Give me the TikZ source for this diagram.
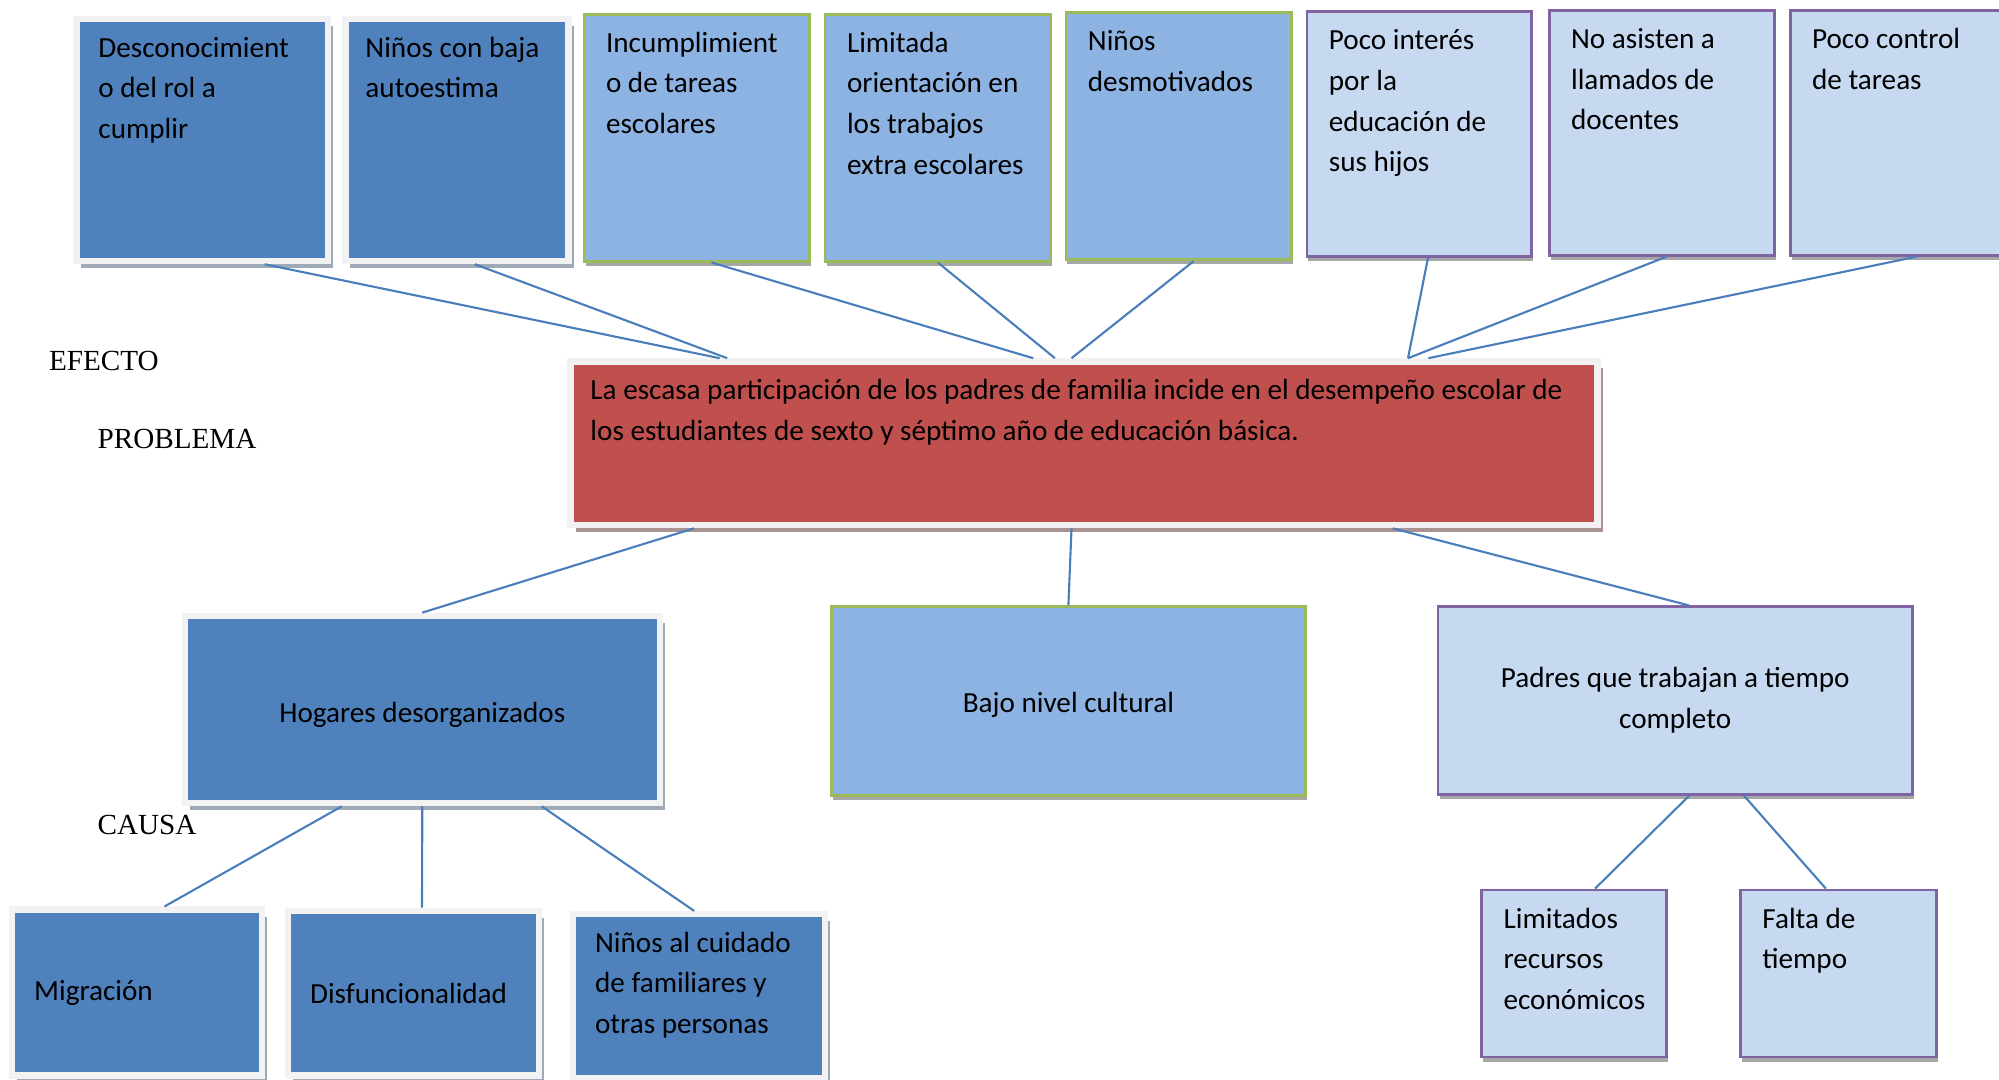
\documentclass[tikz,border=0pt]{standalone}
\usepackage{fontspec}
\setmainfont{Carlito}
\newfontfamily\timesfont{Liberation Serif}
\usetikzlibrary{shadows}
\hyphenpenalty=10000

\definecolor{darkblue}{HTML}{4F81BD}
\definecolor{midblue}{HTML}{8DB3E2}
\definecolor{paleblue}{HTML}{C6D9F1}
\definecolor{leafgreen}{HTML}{9BBB59}
\definecolor{lilac}{HTML}{8064A2}
\definecolor{brick}{HTML}{C0504D}
\definecolor{framegray}{HTML}{F2F2F2}
\definecolor{shadowblue}{HTML}{9FAAB9}
\definecolor{shadowrose}{HTML}{A99393}
\definecolor{shadowgray}{HTML}{A6A6A6}
\definecolor{linkblue}{HTML}{4A7EBB}

\tikzset{
  every node/.style={font=\fontsize{8.3}{11.6}\selectfont, inner xsep=0.22cm, inner ysep=0.1cm},
  darkbox/.style={draw=framegray, line width=1.8pt, fill=darkblue,
    drop shadow={shadow xshift=0.05cm, shadow yshift=-0.07cm, fill=shadowblue, opacity=1}},
  redbox/.style={draw=framegray, line width=1.8pt, fill=brick,
    drop shadow={shadow xshift=0.06cm, shadow yshift=-0.07cm, fill=shadowrose, opacity=1}},
  midbox/.style={draw=leafgreen, line width=0.8pt, fill=midblue,
    drop shadow={shadow xshift=0.015cm, shadow yshift=-0.045cm, fill=shadowgray, opacity=1}},
  palebox/.style={draw=lilac, line width=0.8pt, fill=paleblue,
    drop shadow={shadow xshift=0.015cm, shadow yshift=-0.045cm, fill=shadowgray, opacity=1}},
  topleft/.style={anchor=north west, align=flush left, text height=0.28cm},
  onecenter/.style={text height=0.3cm, text depth=0.07cm},
  link/.style={linkblue, line width=0.6pt},
  tag/.style={font=\timesfont\fontsize{8.3}{10}\selectfont, inner sep=0pt, anchor=west}
}

\begin{document}
\begin{tikzpicture}
    \useasboundingbox (0,0) rectangle (19.99,-10.80);

    \node (desconoc) at (0.733,-0.159) [darkbox, topleft, text width=2.078cm, text depth=1.94cm] {Desconocimient\\o del rol a\\cumplir};
    \node (autoestima) at (3.423,-0.159) [darkbox, topleft, inner xsep=0.2cm, text width=1.831cm, text depth=1.94cm] {Niños con baja\\autoestima};
    \node (incumpl) at (5.826,-0.127) [midbox, topleft, text width=1.817cm, text depth=1.99cm] {Incumplimient\\o de tareas\\escolares};
    \node (limitada) at (8.236,-0.127) [midbox, topleft, text width=1.817cm, text depth=1.99cm] {Limitada\\orientación en\\los trabajos\\extra escolares};
    \node (desmotiv) at (10.645,-0.115) [midbox, topleft, text width=1.817cm, text depth=1.99cm] {Niños\\desmotivados};
    \node (interes) at (13.055,-0.102) [palebox, topleft, text width=1.804cm, text depth=1.97cm] {Poco interés\\por la\\educación de\\sus hijos};
    \node (llamados) at (15.477,-0.089) [palebox, topleft, text width=1.817cm, text depth=1.97cm] {No asisten a\\llamados de\\docentes};
    \node (control) at (17.887,-0.089) [palebox, topleft, text width=1.817cm, text depth=1.97cm] {Poco control\\de tareas};

    \node (problema) at (5.673,-3.582) [redbox, topleft, inner xsep=0.2cm, text width=9.869cm, text depth=1.158cm] {La escasa participación de los padres de familia incide en el desempeño escolar de\\los estudiantes de sexto y séptimo año de educación básica.};

    \node (efecto) at (0.484,-3.608) [tag] {EFECTO};
    \node (problematag) at (0.969,-4.386) [tag] {PROBLEMA};
    \node (causa) at (0.969,-8.249) [tag] {CAUSA};

    \node (hogares) at (4.223,-7.095) [darkbox, onecenter, text height=0.33cm, minimum width=4.749cm, minimum height=1.874cm] {Hogares desorganizados};
    \node (cultural) at (10.684,-7.012) [midbox, onecenter, minimum width=4.743cm, minimum height=1.887cm] {Bajo nivel cultural};
    \node (padres) at (16.752,-7.006) [palebox, align=center, minimum width=4.743cm, minimum height=1.874cm] {Padres que trabajan a tiempo\\completo};

    \node (migracion) at (1.371,-9.925) [darkbox, align=flush left, text width=2.059cm, minimum height=1.657cm] {Migración};
    \node (disfunc) at (4.137,-9.931) [darkbox, align=flush left, text width=2.072cm, minimum height=1.645cm] {Disfuncionalidad};
    \node (cuidado) at (5.699,-9.109) [darkbox, topleft, text width=2.078cm, text depth=1.165cm] {Niños al cuidado\\de familiares y\\otras personas};

    \node (recursos) at (14.802,-8.886) [palebox, topleft, text width=1.409cm, text depth=1.19cm] {Limitados\\recursos\\económicos};
    \node (tiempo) at (17.390,-8.886) [palebox, topleft, text width=1.523cm, text depth=1.19cm] {Falta de\\tiempo};

     \draw[link] ([xshift=0.622cm]desconoc.south) -- ([xshift=-3.643cm]problema.north);
     \draw[link] ([xshift=0.178cm]autoestima.south) -- ([xshift=-3.567cm]problema.north);
     \draw[link] ([xshift=0.147cm]incumpl.south) -- ([xshift=-0.507cm]problema.north);
     \draw[link] (limitada.south) -- ([xshift=-0.290cm]problema.north);
     \draw[link] ([xshift=0.147cm]desmotiv.south) -- ([xshift=-0.124cm]problema.north);
     \draw[link] ([xshift=0.089cm]interes.south) -- ([xshift=3.241cm]problema.north);
     \draw[link] ([xshift=0.045cm]llamados.south) -- ([xshift=3.241cm]problema.north);
     \draw[link] ([xshift=0.134cm]control.south) -- ([xshift=3.445cm]problema.north);

     \draw[link] ([xshift=-3.898cm]problema.south) -- (hogares.north);
     \draw[link] ([xshift=-0.124cm]problema.south) -- (cultural.north);
     \draw[link] ([xshift=3.088cm]problema.south) -- ([xshift=0.140cm]padres.north);

     \draw[link] ([xshift=-0.806cm]hogares.south) -- ([xshift=0.274cm]migracion.north);
     \draw[link] (hogares.south) -- ([xshift=0.083cm]disfunc.north);
     \draw[link] ([xshift=1.195cm]hogares.south) -- ([xshift=-0.048cm]cuidado.north);

     \draw[link] ([xshift=0.140cm]padres.south) -- ([xshift=0.210cm]recursos.north);
     \draw[link] ([xshift=0.688cm]padres.south) -- ([xshift=-0.127cm]tiempo.north);
  \end{tikzpicture}
\end{document}
